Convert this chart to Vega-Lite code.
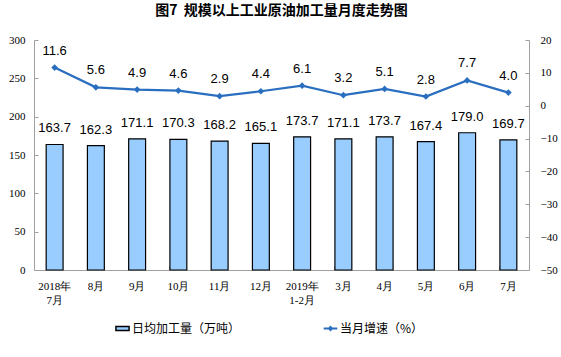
{
  "$schema": "https://vega.github.io/schema/vega-lite/v6.json",
  "autosize": "none",
  "width": 495,
  "height": 230,
  "padding": {"left": 34, "top": 40, "right": 32, "bottom": 87},
  "background": "white",
  "title": {"text": "图7\u00a0\u00a0规模以上工业原油加工量月度走势图", "font": "Noto Sans CJK SC", "fontSize": 14, "fontWeight": "bold", "color": "#000000", "offset": 16, "anchor": "middle"},
  "config": {"view": {"stroke": null}, "axis": {"grid": false, "labelOverlap": false, "labelFlush": false}},
  "data": {"values": [
    {"m": "2018年\n7月", "v": 163.7, "g": 11.6},
    {"m": "8月", "v": 162.3, "g": 5.6},
    {"m": "9月", "v": 171.1, "g": 4.9},
    {"m": "10月", "v": 170.3, "g": 4.6},
    {"m": "11月", "v": 168.2, "g": 2.9},
    {"m": "12月", "v": 165.1, "g": 4.4},
    {"m": "2019年\n1-2月", "v": 173.7, "g": 6.1},
    {"m": "3月", "v": 171.1, "g": 3.2},
    {"m": "4月", "v": 173.7, "g": 5.1},
    {"m": "5月", "v": 167.4, "g": 2.8},
    {"m": "6月", "v": 179.0, "g": 7.7},
    {"m": "7月", "v": 169.7, "g": 4.0}
  ]},
  "encoding": {
    "x": {"field": "m", "type": "nominal", "sort": null,
      "scale": {"paddingInner": 0.59, "paddingOuter": 0.295},
      "axis": {"title": null, "labelAngle": 0, "labelExpr": "split(datum.label, '\\n')", "labelFont": "Liberation Serif", "labelFontSize": 11, "labelColor": "#000000", "labelPadding": 14, "labelLineHeight": 14, "bandPosition": 0, "tickSize": -4, "tickColor": "#A0A0A0", "domainColor": "#A0A0A0"}}
  },
  "layer": [
    {
      "layer": [
        {"mark": {"type": "bar", "stroke": "#000000", "strokeWidth": 1.2},
         "encoding": {
           "y": {"field": "v", "type": "quantitative", "scale": {"domain": [0, 300]},
             "axis": {"orient": "left", "title": null, "values": [0, 50, 100, 150, 200, 250, 300], "labelOverlap": false, "labelFont": "Liberation Serif", "labelFontSize": 11, "labelColor": "#000000", "tickSize": -4, "labelPadding": 13, "tickColor": "#A0A0A0", "domainColor": "#A0A0A0"}},
           "fill": {"datum": "日均加工量（万吨）", "type": "nominal", "scale": {"range": ["#99CCFF"]},
             "legend": {"title": null, "orient": "none", "legendX": 82, "legendY": 282, "symbolType": "M-1.2,-0.35H1.2V0.35H-1.2Z", "symbolSize": 120, "symbolStrokeColor": "#000000", "symbolStrokeWidth": 1.5, "labelFont": "Noto Sans CJK SC", "labelFontSize": 12, "labelColor": "#000000", "labelOffset": 3}}
         }},
        {"mark": {"type": "text", "font": "Liberation Sans", "fontSize": 13, "dy": -9, "baseline": "bottom", "color": "#000000"},
         "encoding": {"y": {"field": "v", "type": "quantitative", "axis": {"orient": "left", "title": null, "values": [0, 50, 100, 150, 200, 250, 300], "labelOverlap": false}}, "text": {"field": "v", "type": "quantitative", "format": ".1f"}}}
      ]
    },
    {
      "layer": [
        {"mark": {"type": "line", "strokeWidth": 2.2},
         "encoding": {
           "y": {"field": "g", "type": "quantitative", "scale": {"domain": [-50, 20]},
             "axis": {"orient": "right", "title": null, "values": [-50, -40, -30, -20, -10, 0, 10, 20], "labelOverlap": false, "labelFont": "Liberation Serif", "labelFontSize": 11, "labelColor": "#000000", "tickSize": -4, "labelPadding": 15, "tickColor": "#A0A0A0", "domainColor": "#A0A0A0"}},
           "stroke": {"datum": "当月增速（%）", "type": "nominal", "scale": {"range": ["#2A6EC0"]},
             "legend": {"title": null, "orient": "none", "legendX": 290, "legendY": 282, "symbolType": "M-1.3,0H1.3M-0.28,0L0,-0.28L0.28,0L0,0.28Z", "symbolSize": 110, "symbolStrokeWidth": 2, "symbolFillColor": "#2A6EC0", "labelFont": "Noto Sans CJK SC", "labelFontSize": 12, "labelColor": "#000000", "labelOffset": 3}}
         }},
        {"mark": {"type": "point", "shape": "diamond", "filled": true, "size": 45, "color": "#2A6EC0", "opacity": 1},
         "encoding": {"y": {"field": "g", "type": "quantitative", "axis": {"orient": "right", "title": null, "values": [-50, -40, -30, -20, -10, 0, 10, 20], "labelOverlap": false}}}},
        {"mark": {"type": "text", "font": "Liberation Sans", "fontSize": 13, "dy": -17, "baseline": "middle", "color": "#000000"},
         "encoding": {"y": {"field": "g", "type": "quantitative", "axis": {"orient": "right", "title": null, "values": [-50, -40, -30, -20, -10, 0, 10, 20], "labelOverlap": false}}, "text": {"field": "g", "type": "quantitative", "format": ".1f"}}}
      ]
    }
  ],
  "resolve": {"scale": {"y": "independent"}}
}
